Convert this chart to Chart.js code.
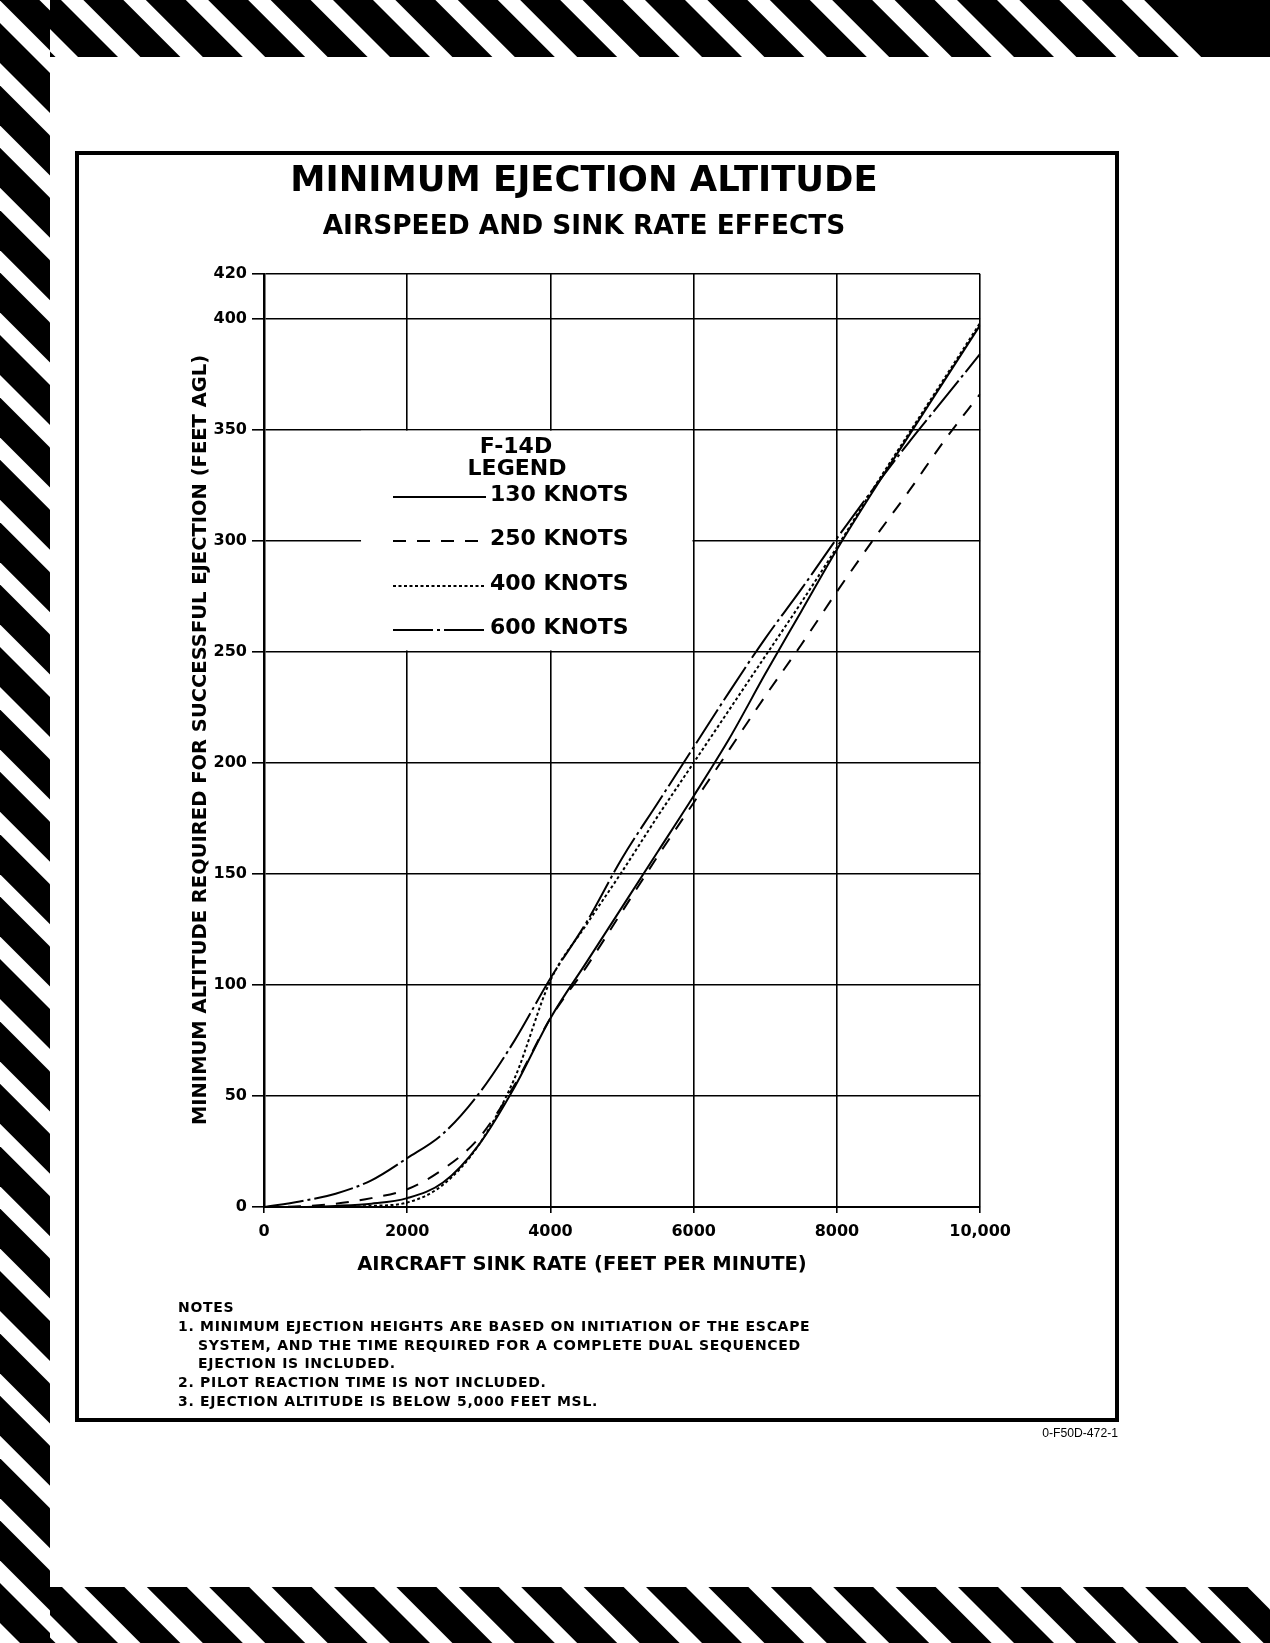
<!DOCTYPE html>
<html><head><meta charset="utf-8">
<script src="https://cdn.jsdelivr.net/npm/chart.js@4.4.1/dist/chart.umd.min.js"></script>
<style>
html,body{margin:0;padding:0;background:#fff;}
body{width:1270px;height:1643px;position:relative;overflow:hidden;font-family:"DejaVu Sans",sans-serif;color:#000;}
#stripes{position:absolute;left:0;top:0;}
#frame{position:absolute;left:75px;top:151px;width:1044px;height:1271px;border:4px solid #000;box-sizing:border-box;}
.t{position:absolute;font-weight:bold;white-space:nowrap;}
#title{left:0;width:1168px;top:161px;font-size:35.4px;line-height:35.4px;text-align:center;}
#subtitle{left:0;width:1168px;top:212px;font-size:26.4px;line-height:26.4px;text-align:center;}
#ytitle{left:-250px;top:728px;width:900px;height:24px;line-height:24px;font-size:19.5px;text-align:center;transform:rotate(-90deg);}
#xtitle{left:182px;top:1252px;width:800px;line-height:24px;font-size:19.5px;text-align:center;}
#notes{left:178px;top:1298px;font-size:14px;line-height:18.8px;letter-spacing:0.7px;}
#notes .i{padding-left:20px;}
#fig{position:absolute;right:152px;top:1425px;font-family:"Liberation Sans",Arial,sans-serif;font-size:12.2px;line-height:16px;white-space:nowrap;}
#chartwrap{position:absolute;left:140px;top:250px;width:880px;height:1040px;}
</style>
</head>
<body>
<canvas id="stripes" width="1270" height="1643"></canvas>
<div id="frame"></div>
<div class="t" id="title">MINIMUM EJECTION ALTITUDE</div>
<div class="t" id="subtitle">AIRSPEED AND SINK RATE EFFECTS</div>
<div class="t" id="ytitle">MINIMUM ALTITUDE REQUIRED FOR SUCCESSFUL EJECTION (FEET AGL)</div>
<div class="t" id="xtitle">AIRCRAFT SINK RATE (FEET PER MINUTE)</div>
<div class="t" id="notes">
<div>NOTES</div>
<div>1. MINIMUM EJECTION HEIGHTS ARE BASED ON INITIATION OF THE ESCAPE</div>
<div class="i">SYSTEM, AND THE TIME REQUIRED FOR A COMPLETE DUAL SEQUENCED</div>
<div class="i">EJECTION IS INCLUDED.</div>
<div>2. PILOT REACTION TIME IS NOT INCLUDED.</div>
<div>3. EJECTION ALTITUDE IS BELOW 5,000 FEET MSL.</div>
</div>
<div id="fig">0-F50D-472-1</div>
<div id="chartwrap"><canvas id="c" width="880" height="1040"></canvas></div>
<script>
// ---- DATA ----
const sinkRates = [0,500,1000,1500,2000,2500,3000,3500,4000,4500,5000,5500,6000,6500,7000,7500,8000,8500,9000,9500,10000];
const alt130 = [0,0,0.5,1.5,4,11,28,54,85,110,135,160,185,211,240,268,296,322,347,372,397];
const alt250 = [0,0.3,1.5,4,8,17,31,55,85,108,133,158,182,206,230,253,277,300,322,345,366];
const alt400 = [0,0,0,0.5,2,10,28,58,102,127,151,176,200,224,248,272,297,323,348,373,398];
const alt600 = [0,2.5,6,12,22,33,51,75,103,128,157,182,207,232,256,278,301,323,344,364,384];
const seriesLabels = ['130 KNOTS','250 KNOTS','400 KNOTS','600 KNOTS'];
const yTickValues = [0,50,100,150,200,250,300,350,400,420];
const xTickValues = [0,2000,4000,6000,8000,10000];
const xTickLabels = ['0','2000','4000','6000','8000','10,000'];
const legendTitle = ['F-14D','LEGEND'];

// ---- STYLES ----
const seriesDash = [[],[13,11],[3,2.5],[40,4,3,4]];
const seriesWidth = [2,2,2,2];

// ---- decorative hazard stripes ----
(function(){
  const g = document.getElementById('stripes').getContext('2d');
  g.fillStyle = '#000';
  function band(x0,y0,x1,y1,c){
    g.save(); g.beginPath(); g.rect(x0,y0,x1-x0,y1-y0); g.clip();
    const P = 62.4, B = 40;
    for(let k=-45;k<45;k++){
      const o = c + k*P;
      g.beginPath(); g.moveTo(y0+o,y0); g.lineTo(y0+o+B,y0); g.lineTo(y1+o+B,y1); g.lineTo(y1+o,y1); g.closePath(); g.fill();
    }
    g.restore();
  }
  band(50,0,1270,57,21);
  band(0,0,50,1643,-0.6);
  band(50,1587,1270,1643,-5);
  g.beginPath(); g.moveTo(1145,0); g.lineTo(1270,0); g.lineTo(1270,57); g.lineTo(1202,57); g.closePath(); g.fill();
})();

// ---- CHART ----
Chart.defaults.font.family = '"DejaVu Sans", sans-serif';
Chart.defaults.color = '#000';
const allSeries = [alt130, alt250, alt400, alt600];
const datasets = allSeries.map((arr,i)=>({
  label: seriesLabels[i],
  data: sinkRates.map((x,j)=>({x:x, y:arr[j]})),
  borderColor:'#000', borderWidth: seriesWidth[i], borderDash: seriesDash[i],
  pointRadius:0, fill:false, cubicInterpolationMode:'monotone'
}));

const legendPlugin = {
  id:'f14legend',
  afterDatasetsDraw(chart){
    const {ctx, chartArea:ca, scales} = chart;
    const xs = scales.x, ys = scales.y;
    const X = v => ca.left + (v - 264), Y = v => ca.top + (v - 274);
    ctx.save();
    ctx.fillStyle = '#fff';
    const l = xs.getPixelForValue(1355), r = xs.getPixelForValue(6000) - 1.2;
    const t = ys.getPixelForValue(350) + 1.2, b = ys.getPixelForValue(250) - 1.2;
    ctx.fillRect(l, t, r - l, b - t);
    ctx.fillStyle = '#000';
    ctx.font = 'bold 22px "DejaVu Sans"';
    ctx.textBaseline = 'middle';
    ctx.textAlign = 'center';
    ctx.fillText(legendTitle[0], X(516), Y(447));
    ctx.fillText(legendTitle[1], X(517), Y(469));
    const rowY = [495, 539, 584, 628];
    ctx.textAlign = 'left';
    seriesLabels.forEach((lab,i)=>{
      ctx.fillText(lab, X(490), Y(rowY[i]));
      ctx.beginPath();
      ctx.setLineDash(seriesDash[i]);
      ctx.lineWidth = seriesWidth[i];
      ctx.strokeStyle = '#000';
      ctx.moveTo(X(393), Y(rowY[i] + 2));
      ctx.lineTo(X(486), Y(rowY[i] + 2));
      ctx.stroke();
    });
    ctx.restore();
  }
};

new Chart(document.getElementById('c'), {
  type:'line',
  data:{datasets},
  options:{
    responsive:false, animation:false, devicePixelRatio:1,
    layout:{padding:{left:0,right:36,top:24,bottom:0}},
    plugins:{legend:{display:false}, tooltip:{enabled:false}},
    scales:{
      x:{
        type:'linear', min:0, max:10000,
        afterBuildTicks: s => { s.ticks = xTickValues.map(v=>({value:v})); },
        afterFit: s => { s.height = 83; },
        ticks:{autoSkip:false, maxRotation:0, padding:9, color:'#000',
          font:{size:16, weight:'bold'},
          callback: v => { const k = xTickValues.indexOf(v); return k >= 0 ? xTickLabels[k] : ''; }},
        grid:{color:'#000', lineWidth:1.6, drawTicks:true, tickLength:6},
        border:{color:'#000', width:2}
      },
      y:{
        type:'linear', min:0, max:420,
        afterBuildTicks: s => { s.ticks = yTickValues.map(v=>({value:v})); },
        afterFit: s => { s.width = 124; },
        ticks:{autoSkip:false, padding:5, color:'#000',
          font:{size:16, weight:'bold'},
          callback: v => String(v)},
        grid:{color:'#000', lineWidth:1.6, drawTicks:true, tickLength:12},
        border:{color:'#000', width:2.5}
      }
    }
  },
  plugins:[legendPlugin]
});
</script>
</body></html>
